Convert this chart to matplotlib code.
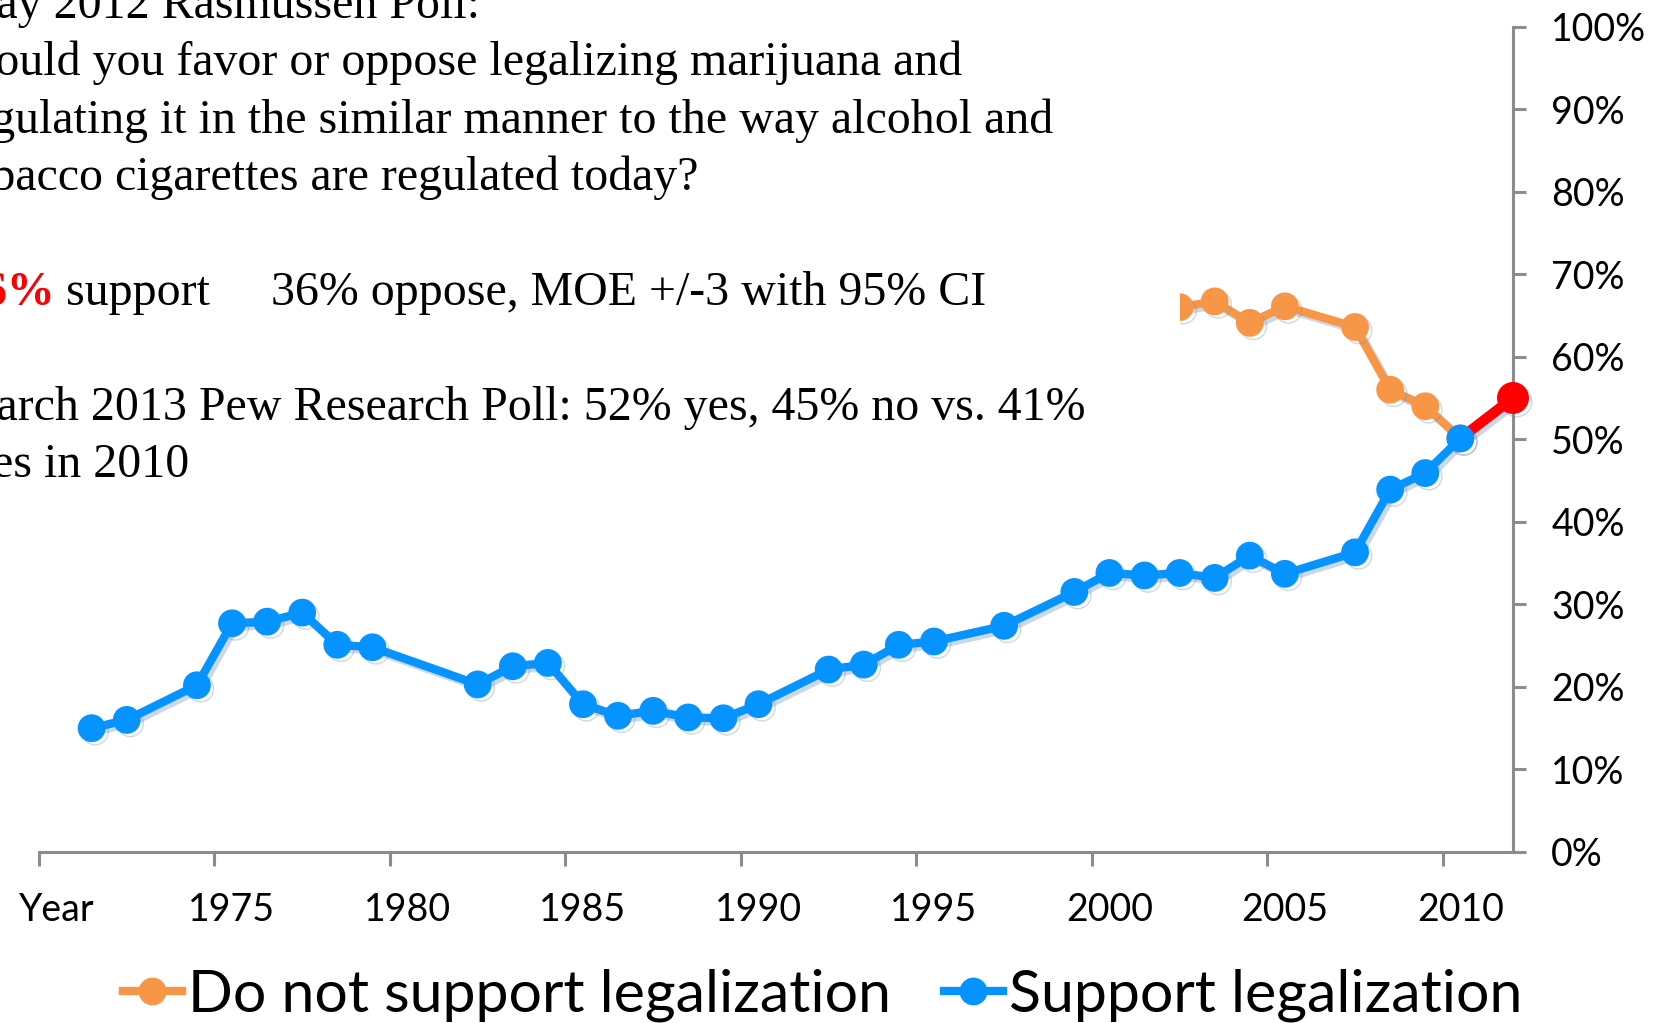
import matplotlib.pyplot as plt
import matplotlib.patheffects as pe
from matplotlib.patches import Rectangle
from matplotlib.lines import Line2D

# support for legalization (%)
years = [1971, 1972, 1974, 1975, 1976, 1977, 1978, 1979, 1982, 1983, 1984,
         1985, 1986, 1987, 1988, 1989, 1990, 1992, 1993, 1994, 1995, 1997,
         1999, 2000, 2001, 2002, 2003, 2004, 2005, 2007, 2008, 2009, 2010]
support = [15, 16, 20.2, 27.7, 27.9, 29, 25.1, 24.8, 20.3, 22.5, 22.9,
           17.9, 16.5, 17.1, 16.3, 16.2, 17.9, 22.1, 22.7, 25.1, 25.5, 27.4,
           31.5, 33.8, 33.5, 33.8, 33.2, 35.9, 33.7, 36.3, 43.9, 45.9, 50.1]

# visible part of the "do not support" series
opp_years = [2002, 2003, 2004, 2005, 2007, 2008, 2009, 2010]
oppose = [66, 66.7, 64.1, 66.1, 63.6, 56, 54, 50.1]

# 2012 poll, drawn at the right edge of the axis
red_years = [2010, 2011.5]
red_vals = [50.1, 55]

tick_years = [1970, 1975, 1980, 1985, 1990, 1995, 2000, 2005, 2010]
tick_labels = ['Year', '1975', '1980', '1985', '1990', '1995', '2000', '2005', '2010']
y_ticks = list(range(0, 101, 10))

note_lines = ['May 2012 Rasmussen Poll:',
              'Would you favor or oppose legalizing marijuana and',
              'regulating it in the similar manner to the way alcohol and',
              'tobacco cigarettes are regulated today?']
poll_support = '56%'
poll_rest = '36% oppose, MOE +/-3 with 95% CI'
pew_lines = ['March 2013 Pew Research Poll: 52% yes, 45% no vs. 41%',
             'yes in 2010']

BLUE = '#0593FF'
ORANGE = '#F79646'
RED = '#FF0000'
GREY = '#8C8C8C'
sans = ['Lato', 'DejaVu Sans']
serif = ['Liberation Serif', 'DejaVu Serif']

W, H = 1665, 1023
fig = plt.figure(figsize=(W / 100, H / 100), dpi=100)
ax = fig.add_axes([39 / W, 1 - 852 / H, (1513 - 39) / W, (852 - 26.5) / H])

shadow = [pe.SimpleLineShadow(offset=(2.5, -2.5), shadow_color='#6f8fbf', alpha=0.35),
          pe.Normal()]

ax.plot(opp_years, oppose, color=ORANGE, lw=6, marker='o', ms=19,
        zorder=2, path_effects=shadow, clip_on=False)
ax.plot(red_years, red_vals, color=RED, lw=7.5, zorder=3,
        path_effects=shadow, clip_on=False)
ax.plot(red_years[-1:], red_vals[-1:], 'o', color=RED, ms=22, zorder=3,
        path_effects=shadow, clip_on=False)
ax.plot(years, support, color=BLUE, lw=6, marker='o', ms=19,
        zorder=4, path_effects=shadow, clip_on=False)

ax.set_xlim(1969.5, 2011.5)
ax.set_ylim(0, 100)

for s in ['top', 'left']:
    ax.spines[s].set_visible(False)
for s in ['bottom', 'right']:
    ax.spines[s].set_color(GREY)
    ax.spines[s].set_linewidth(2.2)

# x tick marks between categories, labels centred on the category
ax.set_xticks([t - 0.5 for t in tick_years])
ax.set_xticklabels([])
ax.set_xticks(tick_years, minor=True)
ax.set_xticklabels(tick_labels, minor=True, fontsize=27, family=sans)
ax.tick_params(axis='x', which='major', length=10, width=2.2, color=GREY, direction='out')
ax.tick_params(axis='x', which='minor', length=0, pad=29)

ax.yaxis.tick_right()
ax.set_yticks(y_ticks)
ax.set_yticklabels([f'{v}%' for v in y_ticks], fontsize=27, family=sans)
ax.tick_params(axis='y', length=9.5, width=2.2, color=GREY, pad=18)

# white box behind the notes (covers the start of the orange series)
fig.patches.append(Rectangle((0, 1 - 490 / H), 1180 / W, 490 / H,
                             transform=fig.transFigure, facecolor='white',
                             edgecolor='none', zorder=1))

x0 = -46 / W
fs = 34.5
base = [18, 75.4, 132.7, 190]
for y, line in zip(base, note_lines):
    fig.text(x0, 1 - y / H, line, fontsize=fs, family=serif, va='baseline', zorder=3)
fig.text(-40 / W, 1 - 305 / H, poll_support, fontsize=fs, family=serif, color=RED,
         weight='bold', va='baseline', zorder=3)
fig.text(66 / W, 1 - 305 / H, 'support', fontsize=fs, family=serif, va='baseline', zorder=3)
fig.text(271 / W, 1 - 305 / H, poll_rest, fontsize=fs, family=serif, va='baseline', zorder=3)
fig.text(x0, 1 - 419.5 / H, pew_lines[0], fontsize=fs, family=serif, va='baseline', zorder=3)
fig.text(-32 / W, 1 - 476.8 / H, pew_lines[1], fontsize=fs, family=serif, va='baseline', zorder=3)

handles = [Line2D([], [], color=ORANGE, lw=6, marker='o', ms=19),
           Line2D([], [], color=BLUE, lw=6, marker='o', ms=19)]
fig.legend(handles, ['Do not support legalization', 'Support legalization'],
           loc='center', bbox_to_anchor=(0.494, 0.027), ncol=2, frameon=False,
           prop={'family': sans, 'size': 42.5}, handlelength=1.0,
           handletextpad=0.1, columnspacing=0.9, borderpad=0)

fig.savefig('out.png', dpi=100)
